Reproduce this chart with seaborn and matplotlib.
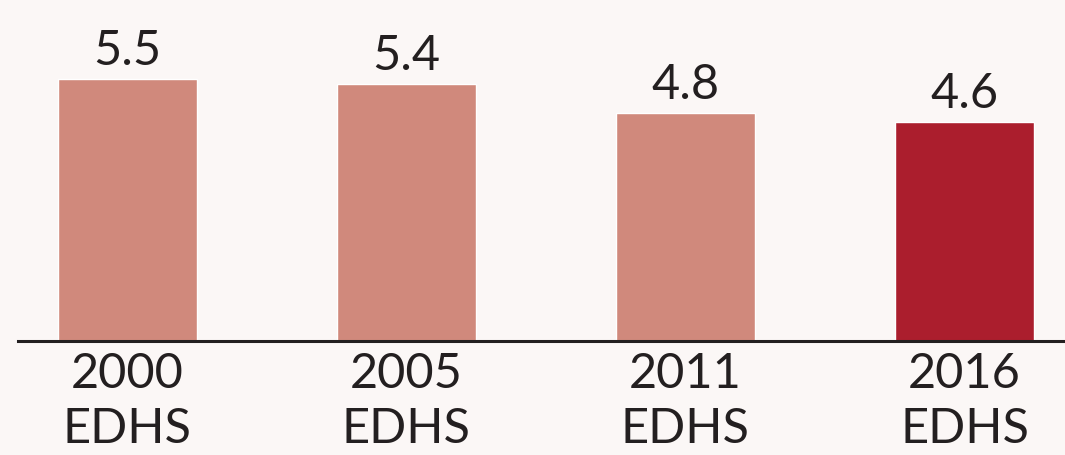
import matplotlib
matplotlib.use("Agg")
import matplotlib.pyplot as plt
import seaborn as sns
import pandas as pd

categories = ["2000\nEDHS", "2005\nEDHS", "2011\nEDHS", "2016\nEDHS"]
values = [5.5, 5.4, 4.8, 4.6]
labels = ["5.5", "5.4", "4.8", "4.6"]
bar_colors = ["#D0897C", "#D0897C", "#D0897C", "#AB1E2D"]

BG = "#FBF7F6"
TEXT = "#231F20"

sns.set_theme(style="white")
plt.rcParams["font.family"] = ["Lato", "DejaVu Sans"]

df = pd.DataFrame({"survey": categories, "value": values})

fig = plt.figure(figsize=(10.65, 4.56), dpi=100, facecolor=BG)
ax = fig.add_axes([18 / 1065, 0.25, 1 - 18 / 1065, 0.75])
ax.set_facecolor(BG)

sns.barplot(data=df, x="survey", y="value", hue="survey", palette=bar_colors,
            width=0.5, legend=False, saturation=1, ax=ax)

# value labels above each bar
for cont, lab in zip(ax.containers, labels):
    ax.bar_label(cont, labels=[lab], padding=5, fontsize=35, color=TEXT)

ax.set_xlim(-0.392, 3.36)
ax.set_ylim(0, 7.185)
ax.set_xlabel("")
ax.set_ylabel("")
ax.set_yticks([])
ax.tick_params(axis="x", length=0, pad=7, labelsize=35, labelcolor=TEXT)
for t in ax.get_xticklabels():
    t.set_linespacing(1.32)

for s in ["top", "right", "left"]:
    ax.spines[s].set_visible(False)
ax.spines["bottom"].set_color(TEXT)
ax.spines["bottom"].set_linewidth(2.2)

fig.savefig("out.png", dpi=100, facecolor=BG)
